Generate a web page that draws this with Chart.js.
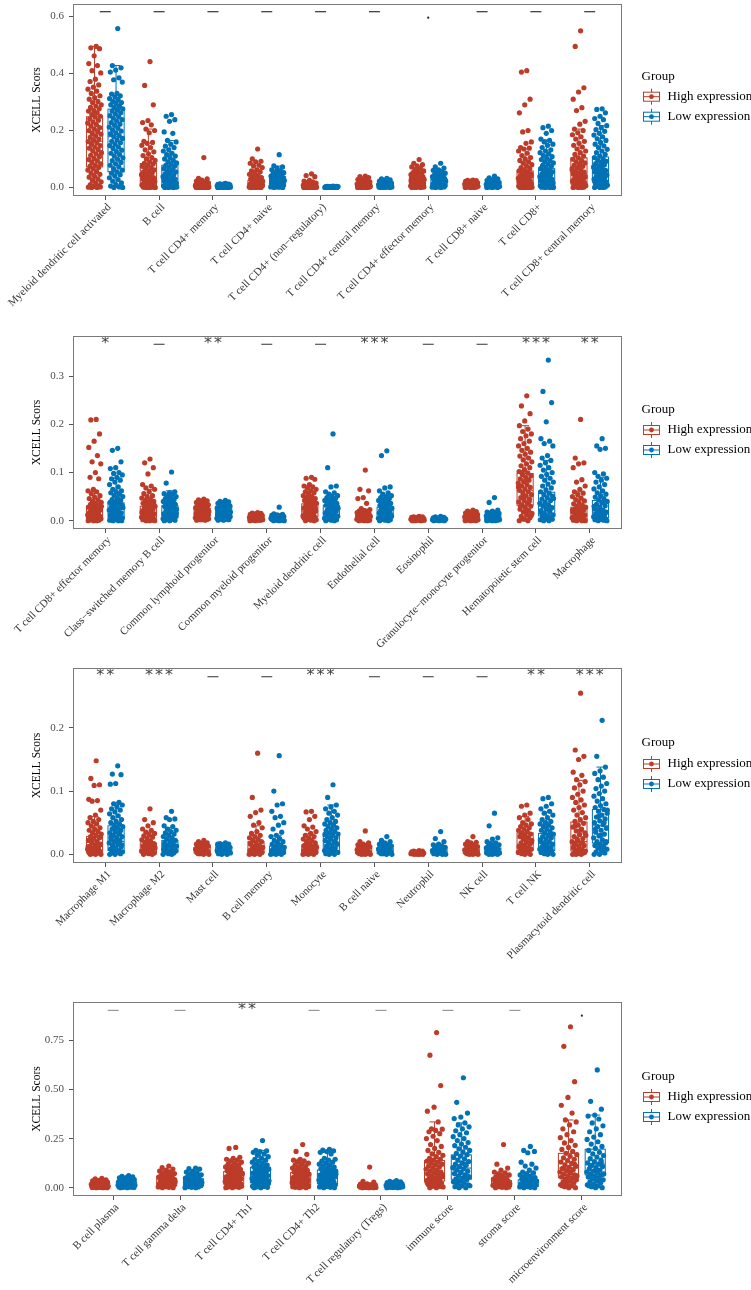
<!DOCTYPE html>
<html><head><meta charset="utf-8">
<script src="https://cdn.jsdelivr.net/npm/chart.js@4/dist/chart.umd.min.js"></script>
<style>
html,body{margin:0;padding:0;background:#fff;}
body{width:751px;height:1290px;position:relative;overflow:hidden;}
canvas{position:absolute;left:0;}
</style></head>
<body>
<canvas id="c1" width="751" height="330" style="top:0px"></canvas>
<canvas id="c2" width="751" height="330" style="top:330px"></canvas>
<canvas id="c3" width="751" height="355" style="top:640px"></canvas>
<canvas id="c4" width="751" height="295" style="top:995px"></canvas>
<script>
// ---------------- DATA ----------------
const groupNames = ["High expression", "Low expression"];

// Panel 1
const p1Categories = ["Myeloid dendritic cell activated","B cell","T cell CD4+ memory","T cell CD4+ naive","T cell CD4+ (non\u2212regulatory)","T cell CD4+ central memory","T cell CD4+ effector memory","T cell CD8+ naive","T cell CD8+","T cell CD8+ central memory"];
const p1YTicks = [0, 0.2, 0.4, 0.6];
const p1Signif = ["ns","ns","ns","ns","ns","ns",".","ns","ns","ns"];
// box stats: [lower whisker, q1, median, q3, upper whisker]
const p1HighBox = [[0,0.072,0.162,0.248,0.495],[0,0.004,0.032,0.084,0.205],[0,0,0.003,0.01,0.024],[0,0.002,0.01,0.025,0.06],[0,0,0.002,0.008,0.018],[0,0.001,0.006,0.014,0.03],[0,0.005,0.018,0.035,0.07],[0,0.002,0.008,0.015,0.025],[0,0.003,0.02,0.058,0.135],[0,0.012,0.05,0.104,0.205]];
const p1LowBox = [[0,0.055,0.178,0.275,0.428],[0,0.004,0.03,0.078,0.165],[0,0.001,0.004,0.008,0.014],[0,0.005,0.02,0.038,0.075],[0,0,0.001,0.002,0.004],[0,0.001,0.006,0.013,0.028],[0,0.004,0.016,0.03,0.06],[0,0.002,0.008,0.016,0.03],[0,0.006,0.028,0.066,0.167],[0,0.018,0.055,0.107,0.217]];
const p1HighPoints = [
[0.495,0.49,0.487,0.462,0.435,0.428,0.41,0.402,0.38,0.372,0.36,0.352,0.345,0.338,0.33,0.322,0.315,0.31,0.302,0.298,0.29,0.286,0.281,0.276,0.27,0.268,0.262,0.256,0.25,0.247,0.241,0.236,0.23,0.226,0.221,0.215,0.21,0.205,0.2,0.196,0.19,0.187,0.181,0.176,0.17,0.166,0.161,0.157,0.152,0.147,0.142,0.138,0.133,0.128,0.122,0.118,0.113,0.108,0.102,0.098,0.093,0.088,0.083,0.078,0.074,0.07,0.066,0.061,0.056,0.05,0.046,0.04,0.036,0.03,0.025,0.02,0.015,0.01,0.006,0.003,0.001,0,0,0.002],
[0.442,0.358,0.29,0.235,0.228,0.22,0.205,0.2,0.192,0.162,0.158,0.155,0.148,0.14,0.132,0.125,0.118,0.112,0.105,0.1,0.095,0.09,0.085,0.082,0.078,0.074,0.07,0.066,0.062,0.058,0.055,0.052,0.048,0.045,0.042,0.038,0.035,0.032,0.03,0.027,0.024,0.021,0.018,0.016,0.013,0.011,0.009,0.007,0.005,0.004,0.003,0.002,0.001,0,0,0,0.001,0.003,0.006,0.008,0.012,0.015,0.02,0.025],
[0.105,0.032,0.03,0.026,0.022,0.02,0.018,0.016,0.014,0.012,0.011,0.01,0.009,0.008,0.007,0.006,0.005,0.004,0.003,0.003,0.002,0.002,0.001,0.001,0,0,0,0,0,0,0.001,0.002,0.004,0.006,0.008],
[0.135,0.1,0.092,0.09,0.085,0.078,0.075,0.07,0.062,0.058,0.055,0.05,0.046,0.042,0.038,0.035,0.032,0.03,0.027,0.024,0.022,0.02,0.018,0.016,0.014,0.012,0.01,0.009,0.008,0.006,0.005,0.004,0.003,0.002,0.001,0,0,0,0,0.001,0.003,0.007,0.011,0.015,0.019],
[0.048,0.042,0.038,0.025,0.022,0.02,0.017,0.015,0.013,0.012,0.01,0.009,0.008,0.007,0.006,0.005,0.004,0.003,0.002,0.002,0.001,0.001,0,0,0,0,0,0,0.001,0.003,0.005],
[0.04,0.038,0.035,0.03,0.028,0.025,0.022,0.02,0.018,0.016,0.014,0.013,0.012,0.011,0.01,0.009,0.008,0.007,0.006,0.005,0.004,0.003,0.002,0.001,0,0,0,0,0.002,0.005,0.008,0.012,0.016],
[0.098,0.085,0.08,0.076,0.072,0.068,0.062,0.058,0.055,0.052,0.05,0.048,0.045,0.043,0.04,0.038,0.036,0.034,0.032,0.03,0.028,0.026,0.024,0.022,0.02,0.018,0.016,0.014,0.012,0.01,0.009,0.008,0.006,0.005,0.004,0.003,0.002,0.001,0,0,0,0.002,0.006,0.01,0.015,0.02,0.025,0.03],
[0.026,0.025,0.024,0.022,0.021,0.02,0.018,0.017,0.016,0.015,0.014,0.013,0.012,0.011,0.01,0.009,0.008,0.007,0.006,0.005,0.004,0.003,0.002,0.001,0,0,0,0.002,0.005,0.008,0.011,0.014,0.017],
[0.41,0.405,0.31,0.29,0.262,0.2,0.195,0.16,0.155,0.14,0.138,0.135,0.128,0.12,0.112,0.105,0.1,0.095,0.09,0.085,0.08,0.075,0.07,0.066,0.062,0.058,0.055,0.052,0.048,0.045,0.042,0.038,0.035,0.032,0.029,0.026,0.023,0.02,0.018,0.016,0.014,0.012,0.01,0.008,0.006,0.005,0.004,0.003,0.002,0.001,0,0,0,0,0.001,0.003,0.007,0.011,0.015,0.021,0.027,0.033,0.04],
[0.55,0.495,0.35,0.335,0.31,0.28,0.27,0.232,0.222,0.205,0.2,0.192,0.185,0.178,0.17,0.162,0.155,0.148,0.142,0.135,0.128,0.122,0.116,0.11,0.104,0.099,0.094,0.09,0.086,0.082,0.078,0.074,0.07,0.066,0.062,0.058,0.054,0.05,0.047,0.044,0.041,0.038,0.035,0.032,0.029,0.026,0.023,0.02,0.018,0.016,0.014,0.012,0.01,0.008,0.006,0.004,0.002,0.001,0,0,0,0.003,0.009,0.015,0.025,0.036,0.048,0.06,0.072]
];
const p1LowPoints = [
[0.558,0.428,0.42,0.412,0.405,0.385,0.378,0.37,0.33,0.328,0.322,0.318,0.312,0.308,0.302,0.298,0.295,0.29,0.285,0.28,0.276,0.272,0.268,0.262,0.258,0.252,0.248,0.243,0.238,0.233,0.228,0.222,0.218,0.212,0.208,0.202,0.198,0.192,0.188,0.182,0.178,0.172,0.167,0.162,0.157,0.152,0.147,0.142,0.137,0.131,0.126,0.12,0.115,0.11,0.104,0.099,0.094,0.088,0.083,0.078,0.072,0.066,0.061,0.055,0.05,0.045,0.04,0.034,0.028,0.022,0.016,0.01,0.005,0.002,0,0],
[0.256,0.25,0.238,0.232,0.195,0.19,0.165,0.16,0.152,0.145,0.14,0.132,0.128,0.12,0.115,0.11,0.105,0.1,0.095,0.09,0.086,0.082,0.078,0.074,0.07,0.066,0.062,0.058,0.055,0.052,0.048,0.045,0.042,0.038,0.035,0.032,0.029,0.026,0.023,0.02,0.018,0.015,0.013,0.011,0.009,0.007,0.005,0.004,0.003,0.002,0.001,0,0,0,0.002,0.006,0.01,0.016,0.024,0.03],
[0.014,0.013,0.012,0.012,0.011,0.01,0.01,0.009,0.008,0.008,0.007,0.006,0.006,0.005,0.004,0.004,0.003,0.003,0.002,0.002,0.001,0.001,0,0,0,0,0.001,0.003,0.005,0.007,0.009,0.011],
[0.115,0.076,0.072,0.068,0.062,0.058,0.055,0.052,0.05,0.048,0.045,0.043,0.04,0.038,0.036,0.034,0.032,0.03,0.028,0.026,0.024,0.022,0.02,0.018,0.016,0.014,0.012,0.01,0.008,0.006,0.005,0.004,0.003,0.002,0.001,0,0,0.002,0.007,0.013,0.019,0.025,0.031,0.037,0.044],
[0.005,0.004,0.004,0.003,0.003,0.003,0.002,0.002,0.002,0.001,0.001,0.001,0,0,0,0,0,0,0.001,0.002,0.003,0.002,0.001,0],
[0.032,0.03,0.027,0.024,0.022,0.02,0.018,0.016,0.014,0.013,0.012,0.011,0.01,0.009,0.008,0.007,0.006,0.005,0.004,0.003,0.002,0.001,0,0,0,0.001,0.004,0.007,0.01],
[0.085,0.072,0.068,0.062,0.06,0.056,0.052,0.05,0.047,0.044,0.042,0.04,0.038,0.036,0.034,0.032,0.03,0.028,0.026,0.024,0.022,0.02,0.018,0.016,0.014,0.012,0.01,0.008,0.006,0.005,0.004,0.003,0.002,0.001,0,0,0.002,0.007,0.012,0.017,0.022],
[0.04,0.034,0.03,0.028,0.025,0.022,0.02,0.018,0.016,0.014,0.013,0.012,0.011,0.01,0.009,0.008,0.007,0.006,0.005,0.004,0.003,0.002,0.001,0,0,0,0.003,0.006,0.009,0.012],
[0.215,0.21,0.2,0.19,0.17,0.165,0.16,0.152,0.148,0.14,0.132,0.128,0.122,0.118,0.112,0.108,0.102,0.098,0.094,0.09,0.086,0.082,0.078,0.074,0.07,0.066,0.062,0.058,0.055,0.052,0.048,0.045,0.042,0.038,0.035,0.032,0.029,0.026,0.023,0.02,0.018,0.016,0.014,0.012,0.01,0.008,0.006,0.005,0.004,0.003,0.002,0.001,0,0,0,0.002,0.009,0.017,0.025,0.033,0.045,0.056],
[0.276,0.274,0.262,0.25,0.242,0.238,0.225,0.217,0.21,0.203,0.197,0.19,0.184,0.178,0.171,0.165,0.158,0.152,0.146,0.14,0.134,0.128,0.122,0.116,0.11,0.105,0.1,0.096,0.092,0.088,0.084,0.08,0.076,0.072,0.068,0.064,0.06,0.057,0.054,0.05,0.047,0.044,0.041,0.038,0.035,0.032,0.029,0.026,0.023,0.02,0.018,0.015,0.012,0.01,0.008,0.006,0.004,0.002,0,0,0,0.005,0.013,0.022,0.03,0.043,0.058,0.07,0.085]
];

// Panel 2
const p2Categories = ["T cell CD8+ effector memory","Class\u2212switched memory B cell","Common lymphoid progenitor","Common myeloid progenitor","Myeloid dendritic cell","Endothelial cell","Eosinophil","Granulocyte\u2212monocyte progenitor","Hematopoietic stem cell","Macrophage"];
const p2YTicks = [0, 0.1, 0.2, 0.3];
const p2Signif = ["*","ns","**","ns","ns","***","ns","ns","***","**"];
const p2HighBox = [[0,0.004,0.012,0.03,0.062],[0,0.005,0.016,0.03,0.065],[0,0.01,0.018,0.026,0.045],[0,0.002,0.005,0.009,0.016],[0,0.008,0.02,0.035,0.06],[0,0.002,0.006,0.012,0.024],[0,0.001,0.003,0.005,0.009],[0,0.001,0.004,0.01,0.02],[0,0.032,0.062,0.098,0.197],[0,0.003,0.01,0.028,0.06]];
const p2LowBox = [[0,0.006,0.018,0.037,0.088],[0,0.006,0.017,0.031,0.062],[0,0.008,0.017,0.03,0.042],[0,0.001,0.004,0.008,0.014],[0,0.008,0.018,0.032,0.055],[0,0.006,0.016,0.028,0.052],[0,0.001,0.002,0.004,0.008],[0,0.001,0.004,0.01,0.02],[0,0.01,0.03,0.059,0.125],[0,0.006,0.018,0.042,0.09]];
const p2HighPoints = [
[0.21,0.209,0.18,0.165,0.152,0.135,0.122,0.118,0.1,0.09,0.087,0.065,0.062,0.06,0.056,0.052,0.049,0.046,0.043,0.04,0.038,0.036,0.034,0.032,0.03,0.028,0.026,0.024,0.022,0.02,0.018,0.016,0.014,0.012,0.011,0.01,0.009,0.008,0.007,0.006,0.005,0.004,0.003,0.002,0.001,0,0,0,0.002,0.006,0.01,0.015,0.02,0.025,0.03,0.035],
[0.128,0.12,0.11,0.097,0.075,0.072,0.068,0.065,0.06,0.056,0.052,0.05,0.047,0.044,0.042,0.04,0.038,0.036,0.034,0.032,0.03,0.028,0.026,0.024,0.022,0.02,0.018,0.016,0.014,0.012,0.01,0.009,0.008,0.007,0.006,0.005,0.004,0.003,0.002,0.001,0,0,0,0.003,0.007,0.012,0.017,0.022,0.027,0.033,0.039],
[0.045,0.043,0.041,0.04,0.038,0.036,0.035,0.033,0.032,0.03,0.029,0.028,0.027,0.026,0.025,0.024,0.023,0.022,0.021,0.02,0.019,0.018,0.017,0.016,0.015,0.014,0.013,0.012,0.011,0.01,0.009,0.008,0.007,0.006,0.005,0.004,0.003,0.002,0.001,0.001,0.002,0.004,0.006,0.008],
[0.017,0.016,0.015,0.014,0.013,0.012,0.012,0.011,0.01,0.009,0.009,0.008,0.007,0.007,0.006,0.005,0.005,0.004,0.003,0.003,0.002,0.002,0.001,0.001,0,0,0.001,0.002,0.004,0.006,0.008],
[0.09,0.088,0.086,0.075,0.072,0.07,0.068,0.065,0.062,0.06,0.058,0.055,0.052,0.05,0.048,0.046,0.044,0.042,0.04,0.038,0.036,0.034,0.032,0.03,0.028,0.026,0.024,0.022,0.02,0.018,0.016,0.014,0.012,0.01,0.009,0.008,0.007,0.006,0.005,0.004,0.003,0.002,0.001,0,0,0.003,0.008,0.013,0.019,0.025,0.031],
[0.105,0.065,0.062,0.048,0.046,0.036,0.025,0.023,0.021,0.02,0.019,0.018,0.017,0.016,0.015,0.014,0.013,0.012,0.011,0.01,0.009,0.008,0.007,0.006,0.005,0.004,0.003,0.002,0.001,0,0,0,0.001,0.003,0.005,0.008,0.011,0.014],
[0.009,0.008,0.008,0.007,0.007,0.006,0.006,0.005,0.005,0.004,0.004,0.003,0.003,0.002,0.002,0.001,0.001,0,0,0,0.001,0.002,0.003,0.004],
[0.022,0.02,0.019,0.018,0.016,0.015,0.014,0.013,0.012,0.011,0.01,0.009,0.008,0.007,0.006,0.005,0.004,0.003,0.003,0.002,0.002,0.001,0.001,0,0,0,0.001,0.003,0.005,0.008],
[0.259,0.238,0.222,0.207,0.197,0.19,0.185,0.18,0.176,0.17,0.165,0.16,0.155,0.15,0.146,0.142,0.138,0.134,0.13,0.126,0.122,0.118,0.114,0.11,0.106,0.102,0.099,0.096,0.093,0.09,0.087,0.084,0.081,0.078,0.075,0.072,0.069,0.066,0.063,0.06,0.057,0.054,0.051,0.048,0.045,0.042,0.039,0.036,0.033,0.03,0.027,0.024,0.021,0.018,0.015,0.012,0.009,0.006,0.003,0,0,0.004,0.011,0.02,0.03,0.04,0.05,0.07,0.085,0.1],
[0.21,0.13,0.12,0.118,0.11,0.085,0.08,0.072,0.065,0.06,0.057,0.054,0.05,0.047,0.044,0.041,0.038,0.035,0.032,0.03,0.028,0.026,0.024,0.022,0.02,0.018,0.016,0.014,0.012,0.01,0.009,0.008,0.007,0.006,0.005,0.004,0.003,0.002,0.001,0,0,0,0.003,0.007,0.012,0.017,0.022]
];
const p2LowPoints = [
[0.15,0.146,0.122,0.11,0.108,0.1,0.098,0.095,0.09,0.087,0.084,0.08,0.075,0.07,0.065,0.062,0.06,0.058,0.055,0.052,0.05,0.047,0.044,0.042,0.04,0.038,0.036,0.034,0.032,0.03,0.028,0.026,0.024,0.022,0.02,0.018,0.016,0.014,0.012,0.01,0.008,0.006,0.005,0.004,0.003,0.002,0.001,0,0,0,0.004,0.009,0.014,0.02,0.027,0.034],
[0.101,0.078,0.06,0.058,0.056,0.055,0.052,0.05,0.048,0.046,0.044,0.042,0.04,0.038,0.036,0.034,0.032,0.03,0.028,0.026,0.024,0.022,0.02,0.018,0.016,0.014,0.012,0.01,0.009,0.008,0.007,0.006,0.005,0.004,0.003,0.002,0.001,0,0,0.004,0.009,0.015,0.021,0.028,0.035],
[0.042,0.04,0.039,0.037,0.036,0.034,0.033,0.031,0.03,0.029,0.028,0.027,0.026,0.025,0.024,0.023,0.022,0.021,0.02,0.019,0.018,0.017,0.016,0.015,0.014,0.013,0.012,0.011,0.01,0.009,0.008,0.007,0.006,0.005,0.004,0.003,0.002,0.001,0.001,0.003,0.005,0.008],
[0.028,0.014,0.013,0.012,0.011,0.01,0.009,0.009,0.008,0.007,0.006,0.006,0.005,0.004,0.004,0.003,0.002,0.002,0.001,0.001,0,0,0,0.001,0.003,0.005,0.007],
[0.18,0.11,0.072,0.07,0.06,0.058,0.055,0.052,0.05,0.048,0.046,0.044,0.042,0.04,0.038,0.036,0.034,0.032,0.03,0.028,0.026,0.024,0.022,0.02,0.018,0.016,0.014,0.012,0.01,0.009,0.008,0.007,0.006,0.005,0.004,0.003,0.002,0.001,0,0,0.004,0.009,0.014,0.019,0.025,0.03],
[0.145,0.135,0.07,0.068,0.062,0.058,0.055,0.052,0.05,0.048,0.046,0.044,0.042,0.04,0.038,0.036,0.034,0.032,0.03,0.028,0.026,0.024,0.022,0.02,0.018,0.016,0.014,0.012,0.01,0.009,0.008,0.007,0.006,0.005,0.004,0.003,0.002,0.001,0,0,0.004,0.01,0.016,0.022,0.028],
[0.009,0.008,0.007,0.006,0.006,0.005,0.005,0.004,0.004,0.003,0.003,0.002,0.002,0.001,0.001,0,0,0,0.001,0.002,0.003],
[0.048,0.038,0.022,0.02,0.018,0.017,0.016,0.015,0.014,0.013,0.012,0.011,0.01,0.009,0.008,0.007,0.006,0.005,0.004,0.003,0.002,0.002,0.001,0.001,0,0,0,0.002,0.004,0.007],
[0.333,0.268,0.245,0.205,0.17,0.165,0.16,0.155,0.135,0.13,0.125,0.12,0.115,0.11,0.105,0.1,0.096,0.092,0.088,0.084,0.08,0.076,0.072,0.068,0.064,0.06,0.057,0.054,0.051,0.048,0.045,0.042,0.039,0.036,0.033,0.03,0.027,0.024,0.021,0.018,0.015,0.012,0.01,0.008,0.006,0.004,0.002,0,0,0.003,0.009,0.016,0.024,0.035,0.046],
[0.17,0.155,0.15,0.148,0.1,0.097,0.092,0.088,0.084,0.08,0.075,0.07,0.066,0.062,0.058,0.055,0.052,0.049,0.046,0.043,0.04,0.037,0.034,0.031,0.028,0.025,0.022,0.02,0.018,0.016,0.014,0.012,0.01,0.008,0.006,0.005,0.004,0.003,0.002,0.001,0,0,0.004,0.009,0.015,0.022,0.03,0.038]
];

// Panel 3
const p3Categories = ["Macrophage M1","Macrophage M2","Mast cell","B cell memory","Monocyte","B cell naive","Neutrophil","NK cell","T cell NK","Plasmacytoid dendritic cell"];
const p3YTicks = [0, 0.1, 0.2];
const p3Signif = ["**","***","ns","ns","***","ns","ns","ns","**","***"];
const p3HighBox = [[0,0.003,0.012,0.028,0.06],[0,0.002,0.008,0.018,0.035],[0,0.002,0.006,0.011,0.02],[0,0.002,0.008,0.02,0.045],[0,0.002,0.006,0.015,0.032],[0,0.001,0.004,0.009,0.017],[0,0.0005,0.001,0.003,0.005],[0,0.001,0.003,0.008,0.016],[0,0.006,0.016,0.034,0.06],[0,0.005,0.02,0.051,0.117]];
const p3LowBox = [[0,0.006,0.02,0.045,0.082],[0,0.004,0.012,0.022,0.042],[0,0.002,0.006,0.011,0.018],[0,0.001,0.004,0.013,0.03],[0,0.006,0.016,0.034,0.078],[0,0.001,0.004,0.009,0.018],[0,0.001,0.003,0.008,0.016],[0,0.001,0.004,0.01,0.02],[0,0.006,0.017,0.033,0.067],[0,0.018,0.045,0.071,0.138]];
const p3HighPoints = [
[0.148,0.12,0.11,0.109,0.087,0.085,0.084,0.07,0.062,0.058,0.055,0.052,0.05,0.048,0.045,0.042,0.04,0.038,0.036,0.034,0.032,0.03,0.028,0.026,0.024,0.022,0.02,0.018,0.016,0.014,0.012,0.01,0.009,0.008,0.007,0.006,0.005,0.004,0.003,0.002,0.001,0,0,0,0.003,0.007,0.012,0.017,0.022,0.027],
[0.072,0.055,0.05,0.045,0.04,0.038,0.035,0.033,0.031,0.029,0.027,0.025,0.023,0.021,0.019,0.017,0.015,0.013,0.012,0.011,0.01,0.009,0.008,0.007,0.006,0.005,0.004,0.003,0.002,0.001,0,0,0.002,0.005,0.008,0.012,0.016,0.02],
[0.022,0.02,0.018,0.017,0.016,0.015,0.014,0.013,0.012,0.011,0.01,0.009,0.008,0.007,0.006,0.005,0.004,0.003,0.002,0.001,0,0,0.001,0.003,0.005,0.008,0.011,0.014],
[0.16,0.09,0.07,0.066,0.06,0.05,0.046,0.042,0.036,0.033,0.03,0.028,0.026,0.024,0.022,0.02,0.018,0.016,0.014,0.012,0.011,0.01,0.009,0.008,0.007,0.006,0.005,0.004,0.003,0.002,0.001,0,0,0,0.002,0.005,0.009,0.013,0.017],
[0.068,0.067,0.06,0.055,0.045,0.043,0.04,0.036,0.033,0.03,0.028,0.026,0.024,0.022,0.02,0.018,0.016,0.014,0.013,0.012,0.011,0.01,0.009,0.008,0.007,0.006,0.005,0.004,0.003,0.002,0.001,0,0,0,0.002,0.004,0.007,0.01,0.013],
[0.037,0.02,0.018,0.016,0.015,0.014,0.013,0.012,0.011,0.01,0.009,0.008,0.007,0.006,0.005,0.004,0.003,0.002,0.001,0,0,0,0.001,0.003,0.005,0.008,0.011],
[0.006,0.005,0.005,0.004,0.004,0.003,0.003,0.002,0.002,0.002,0.001,0.001,0.001,0,0,0,0,0.001,0.002,0.003],
[0.028,0.02,0.019,0.018,0.016,0.015,0.013,0.012,0.011,0.01,0.009,0.008,0.007,0.006,0.005,0.004,0.003,0.002,0.001,0,0,0,0.001,0.003,0.005],
[0.078,0.076,0.065,0.062,0.058,0.055,0.05,0.048,0.046,0.044,0.042,0.04,0.038,0.036,0.034,0.032,0.03,0.028,0.026,0.024,0.022,0.02,0.018,0.016,0.014,0.012,0.01,0.009,0.008,0.007,0.006,0.005,0.004,0.003,0.002,0.001,0,0,0.003,0.008,0.013,0.019,0.025,0.031],
[0.255,0.165,0.155,0.15,0.13,0.125,0.118,0.115,0.11,0.105,0.1,0.095,0.09,0.086,0.082,0.078,0.074,0.07,0.066,0.062,0.058,0.055,0.052,0.049,0.046,0.043,0.04,0.037,0.034,0.031,0.028,0.025,0.022,0.02,0.018,0.016,0.014,0.012,0.01,0.008,0.006,0.005,0.004,0.003,0.002,0.001,0,0,0,0.003,0.008,0.013,0.018,0.024,0.03,0.038,0.045]
];
const p3LowPoints = [
[0.14,0.127,0.126,0.112,0.111,0.082,0.08,0.078,0.075,0.072,0.07,0.067,0.064,0.061,0.058,0.055,0.052,0.05,0.048,0.046,0.044,0.042,0.04,0.038,0.036,0.034,0.032,0.03,0.028,0.026,0.024,0.022,0.02,0.018,0.016,0.014,0.012,0.01,0.008,0.006,0.005,0.004,0.003,0.002,0.001,0,0,0.004,0.009,0.015,0.021,0.027,0.034,0.041],
[0.068,0.058,0.056,0.055,0.045,0.044,0.04,0.038,0.036,0.034,0.032,0.03,0.028,0.026,0.024,0.022,0.02,0.018,0.016,0.014,0.013,0.012,0.011,0.01,0.009,0.008,0.007,0.006,0.005,0.004,0.003,0.002,0.001,0,0,0.003,0.006,0.01,0.015,0.02],
[0.018,0.017,0.016,0.015,0.014,0.013,0.012,0.011,0.01,0.009,0.008,0.007,0.006,0.005,0.004,0.003,0.002,0.001,0,0,0.002,0.004,0.007,0.01,0.013,0.016],
[0.156,0.1,0.08,0.078,0.068,0.06,0.058,0.05,0.046,0.04,0.035,0.03,0.028,0.025,0.022,0.02,0.018,0.016,0.014,0.012,0.011,0.01,0.009,0.008,0.007,0.006,0.005,0.004,0.003,0.002,0.001,0,0,0,0.002,0.004,0.007,0.01],
[0.11,0.09,0.078,0.075,0.072,0.068,0.065,0.062,0.058,0.055,0.052,0.05,0.048,0.046,0.044,0.042,0.04,0.038,0.036,0.034,0.032,0.03,0.028,0.026,0.024,0.022,0.02,0.018,0.016,0.014,0.012,0.01,0.008,0.006,0.005,0.004,0.003,0.002,0.001,0,0,0.003,0.008,0.013,0.019,0.025,0.031],
[0.028,0.022,0.02,0.018,0.016,0.015,0.014,0.013,0.012,0.011,0.01,0.009,0.008,0.007,0.006,0.005,0.004,0.003,0.002,0.001,0,0,0.001,0.003,0.006,0.009],
[0.036,0.025,0.02,0.016,0.015,0.013,0.012,0.011,0.01,0.009,0.008,0.007,0.006,0.005,0.004,0.003,0.002,0.001,0,0,0,0.002,0.004,0.006],
[0.065,0.045,0.026,0.024,0.02,0.018,0.016,0.015,0.014,0.013,0.012,0.011,0.01,0.009,0.008,0.007,0.006,0.005,0.004,0.003,0.002,0.001,0,0,0,0.002,0.005,0.008],
[0.09,0.088,0.08,0.076,0.072,0.068,0.065,0.062,0.058,0.055,0.052,0.05,0.048,0.046,0.044,0.042,0.04,0.038,0.036,0.034,0.032,0.03,0.028,0.026,0.024,0.022,0.02,0.018,0.016,0.014,0.012,0.01,0.009,0.008,0.007,0.006,0.005,0.004,0.003,0.002,0.001,0,0,0.004,0.01,0.016,0.023,0.029],
[0.212,0.155,0.138,0.132,0.128,0.122,0.118,0.112,0.108,0.104,0.1,0.096,0.092,0.088,0.084,0.08,0.077,0.074,0.071,0.068,0.065,0.062,0.059,0.056,0.053,0.05,0.047,0.044,0.041,0.038,0.035,0.032,0.029,0.026,0.023,0.02,0.018,0.016,0.014,0.012,0.01,0.008,0.006,0.004,0.002,0,0,0.005,0.012,0.02,0.03,0.04,0.05,0.06,0.07]
];

// Panel 4
const p4Categories = ["B cell plasma","T cell gamma delta","T cell CD4+ Th1","T cell CD4+ Th2","T cell regulatory (Tregs)","immune score","stroma score","microenvironment score"];
const p4YTicks = [0, 0.25, 0.5, 0.75];
const p4Signif = ["ns","ns","**","ns","ns","ns","ns","."];
const p4HighBox = [[0,0.004,0.01,0.02,0.04],[0,0.01,0.025,0.048,0.09],[0,0.018,0.045,0.082,0.145],[0,0.015,0.04,0.077,0.145],[0,0.001,0.004,0.008,0.016],[0,0.034,0.075,0.138,0.335],[0,0.006,0.015,0.036,0.075],[0,0.051,0.1,0.175,0.345]];
const p4LowBox = [[0,0.006,0.015,0.03,0.055],[0,0.01,0.024,0.045,0.085],[0,0.025,0.06,0.104,0.19],[0,0.02,0.05,0.09,0.18],[0,0.003,0.008,0.016,0.03],[0,0.043,0.1,0.167,0.33],[0,0.006,0.016,0.04,0.08],[0,0.065,0.12,0.196,0.37]];
const p4HighPoints = [
[0.048,0.045,0.04,0.038,0.035,0.032,0.03,0.028,0.026,0.024,0.022,0.02,0.018,0.016,0.014,0.012,0.01,0.009,0.008,0.007,0.006,0.005,0.004,0.003,0.002,0.001,0,0,0,0.002,0.005,0.009,0.013,0.017,0.021],
[0.11,0.102,0.095,0.09,0.085,0.08,0.076,0.072,0.068,0.064,0.06,0.057,0.054,0.051,0.048,0.045,0.042,0.039,0.036,0.033,0.03,0.028,0.026,0.024,0.022,0.02,0.018,0.016,0.014,0.012,0.01,0.008,0.006,0.004,0.002,0,0,0.005,0.012,0.02,0.028,0.036],
[0.205,0.2,0.155,0.15,0.145,0.14,0.135,0.13,0.125,0.12,0.115,0.11,0.106,0.102,0.098,0.094,0.09,0.086,0.082,0.078,0.074,0.07,0.066,0.062,0.058,0.055,0.052,0.049,0.046,0.043,0.04,0.037,0.034,0.031,0.028,0.025,0.022,0.019,0.016,0.013,0.01,0.008,0.006,0.004,0.002,0,0,0.005,0.012,0.02,0.03,0.04,0.05,0.06,0.07],
[0.22,0.185,0.17,0.145,0.14,0.135,0.13,0.125,0.12,0.115,0.11,0.105,0.1,0.096,0.092,0.088,0.084,0.08,0.076,0.072,0.068,0.064,0.06,0.057,0.054,0.051,0.048,0.045,0.042,0.039,0.036,0.033,0.03,0.027,0.024,0.021,0.018,0.015,0.012,0.01,0.008,0.006,0.004,0.002,0,0,0.005,0.012,0.02,0.03,0.04,0.05,0.06],
[0.105,0.032,0.028,0.02,0.018,0.016,0.015,0.014,0.013,0.012,0.011,0.01,0.009,0.008,0.007,0.006,0.005,0.004,0.003,0.002,0.001,0,0,0,0.001,0.003,0.005,0.008],
[0.79,0.675,0.52,0.41,0.39,0.335,0.3,0.298,0.292,0.285,0.275,0.262,0.25,0.24,0.22,0.21,0.2,0.19,0.18,0.172,0.165,0.158,0.15,0.145,0.14,0.135,0.13,0.125,0.12,0.115,0.11,0.105,0.1,0.095,0.09,0.085,0.08,0.075,0.07,0.065,0.06,0.056,0.052,0.048,0.044,0.04,0.036,0.032,0.028,0.024,0.02,0.016,0.012,0.008,0.004,0,0,0.006,0.015,0.025,0.035,0.05,0.065,0.08],
[0.22,0.12,0.1,0.09,0.08,0.075,0.07,0.065,0.06,0.056,0.052,0.048,0.044,0.04,0.037,0.034,0.031,0.028,0.025,0.022,0.02,0.018,0.016,0.014,0.012,0.01,0.008,0.006,0.004,0.002,0,0,0.005,0.012,0.02,0.028],
[0.82,0.72,0.54,0.46,0.42,0.38,0.345,0.335,0.32,0.3,0.285,0.27,0.255,0.24,0.228,0.216,0.205,0.195,0.185,0.175,0.168,0.16,0.152,0.145,0.138,0.131,0.124,0.117,0.11,0.104,0.098,0.092,0.086,0.08,0.075,0.07,0.065,0.06,0.055,0.05,0.045,0.04,0.035,0.03,0.025,0.02,0.015,0.01,0.005,0,0,0.01,0.025,0.04,0.06,0.08,0.1,0.12]
];
const p4LowPoints = [
[0.061,0.058,0.055,0.052,0.05,0.047,0.044,0.041,0.038,0.035,0.032,0.03,0.028,0.026,0.024,0.022,0.02,0.018,0.016,0.014,0.012,0.01,0.008,0.006,0.005,0.004,0.003,0.002,0.001,0,0,0.003,0.008,0.013,0.018,0.025],
[0.1,0.097,0.095,0.085,0.08,0.075,0.07,0.066,0.062,0.058,0.055,0.052,0.049,0.046,0.043,0.04,0.037,0.034,0.031,0.028,0.026,0.024,0.022,0.02,0.018,0.016,0.014,0.012,0.01,0.008,0.006,0.004,0.002,0,0,0.005,0.012,0.02,0.028,0.036],
[0.24,0.19,0.188,0.184,0.18,0.172,0.165,0.158,0.15,0.145,0.14,0.135,0.13,0.125,0.12,0.115,0.11,0.106,0.102,0.098,0.094,0.09,0.086,0.082,0.078,0.074,0.07,0.066,0.062,0.058,0.055,0.052,0.049,0.046,0.043,0.04,0.037,0.034,0.031,0.028,0.025,0.022,0.019,0.016,0.013,0.01,0.008,0.006,0.004,0.002,0,0,0.01,0.02,0.035,0.05,0.07,0.09],
[0.195,0.192,0.188,0.184,0.18,0.172,0.15,0.145,0.14,0.135,0.13,0.125,0.12,0.115,0.11,0.105,0.1,0.096,0.092,0.088,0.084,0.08,0.076,0.072,0.068,0.064,0.06,0.057,0.054,0.051,0.048,0.045,0.042,0.039,0.036,0.033,0.03,0.027,0.024,0.021,0.018,0.015,0.012,0.01,0.008,0.006,0.004,0.002,0,0,0.01,0.02,0.035,0.05,0.07],
[0.036,0.032,0.03,0.028,0.026,0.024,0.022,0.02,0.018,0.016,0.015,0.014,0.013,0.012,0.011,0.01,0.009,0.008,0.007,0.006,0.005,0.004,0.003,0.002,0.001,0,0,0.002,0.005,0.009],
[0.56,0.435,0.38,0.36,0.352,0.33,0.32,0.31,0.3,0.29,0.28,0.27,0.26,0.25,0.24,0.23,0.222,0.214,0.206,0.198,0.19,0.182,0.175,0.168,0.161,0.154,0.147,0.14,0.133,0.126,0.12,0.114,0.108,0.102,0.096,0.09,0.084,0.078,0.072,0.066,0.06,0.055,0.05,0.045,0.04,0.035,0.03,0.025,0.02,0.015,0.01,0.005,0,0,0.01,0.025,0.04,0.06,0.08,0.1,0.12],
[0.21,0.19,0.185,0.178,0.13,0.12,0.11,0.1,0.09,0.08,0.075,0.07,0.065,0.06,0.056,0.052,0.048,0.044,0.04,0.037,0.034,0.031,0.028,0.025,0.022,0.02,0.018,0.016,0.014,0.012,0.01,0.008,0.006,0.004,0.002,0,0,0.005,0.012,0.02,0.028],
[0.6,0.44,0.4,0.37,0.365,0.35,0.33,0.315,0.3,0.285,0.27,0.258,0.246,0.234,0.222,0.21,0.2,0.19,0.18,0.172,0.164,0.156,0.148,0.14,0.133,0.126,0.12,0.114,0.108,0.102,0.096,0.09,0.085,0.08,0.075,0.07,0.065,0.06,0.055,0.05,0.045,0.04,0.035,0.03,0.025,0.02,0.015,0.01,0.005,0,0,0.01,0.03,0.05,0.07,0.09,0.11,0.13]
];

// ---------------- RENDER ----------------
const RED = '#BC3C29', BLUE = '#0072B5';
const SERIF = "'Liberation Serif', 'Times New Roman', serif";
const AREA_LEFT = 73, AREA_RIGHT = 622, W = 751;

function makePanel(canvasId, L, cats, yTicks, signif, hiBox, loBox, hiPts, loPts) {
  const n = cats.length;
  const OFF = 0.2, HALF = 0.15, CAP = 0.075, JW = 0.26;
  const jit = i => ((((i + 1) * 0.6180339887) % 1) - 0.5) * JW;
  const toPts = (arr, off) => arr.flatMap((vals, c) => vals.map((v, i) => ({x: c + off + jit(i), y: v})));
  const canvas = document.getElementById(canvasId);
  const H = canvas.height;

  const boxPlugin = {
    id: 'boxes_' + canvasId,
    beforeDatasetsDraw(chart) {
      const {ctx, scales: {x, y}} = chart;
      ctx.save();
      [[hiBox, RED, -OFF], [loBox, BLUE, OFF]].forEach(([boxes, col, off]) => {
        boxes.forEach((b, c) => {
          const xc = x.getPixelForValue(c + off);
          const hw = x.getPixelForValue(c + off + HALF) - xc;
          const cw = x.getPixelForValue(c + off + CAP) - xc;
          const [lo, q1, md, q3, hi] = b.map(v => y.getPixelForValue(v));
          ctx.strokeStyle = col; ctx.lineWidth = 1;
          ctx.beginPath();
          ctx.moveTo(xc, hi); ctx.lineTo(xc, q3);
          ctx.moveTo(xc, q1); ctx.lineTo(xc, lo);
          ctx.moveTo(xc - cw, hi); ctx.lineTo(xc + cw, hi);
          ctx.moveTo(xc - cw, lo); ctx.lineTo(xc + cw, lo);
          ctx.stroke();
          ctx.fillStyle = '#fff';
          ctx.fillRect(xc - hw, q3, 2 * hw, q1 - q3);
          ctx.strokeRect(xc - hw, q3, 2 * hw, q1 - q3);
          ctx.beginPath(); ctx.moveTo(xc - hw, md); ctx.lineTo(xc + hw, md); ctx.stroke();
        });
      });
      ctx.restore();
    },
    afterDatasetsDraw(chart) {
      const {ctx, chartArea: a, scales: {x}} = chart;
      ctx.save();
      signif.forEach((s, c) => {
        const xc = x.getPixelForValue(c);
        if (s === 'ns') {
          ctx.strokeStyle = L.dashColor; ctx.lineWidth = 1.2;
          ctx.beginPath(); ctx.moveTo(xc - 5.5, a.top + L.dashDy); ctx.lineTo(xc + 5.5, a.top + L.dashDy); ctx.stroke();
        } else if (s === '.') {
          ctx.fillStyle = '#222';
          ctx.beginPath(); ctx.arc(xc, a.top + L.dotDy, 1.1, 0, Math.PI * 2); ctx.fill();
        } else {
          ctx.fillStyle = '#444';
          ctx.font = "16px 'DejaVu Sans', sans-serif";
          ctx.textAlign = 'center'; ctx.textBaseline = 'middle';
          const k = s.length, step = 10;
          for (let j = 0; j < k; j++) {
            ctx.fillText('*', xc + (j - (k - 1) / 2) * step, a.top + L.starDy);
          }
        }
      });
      ctx.restore();
    },
    afterDraw(chart) {
      const {ctx, chartArea: a} = chart;
      ctx.save();
      ctx.strokeStyle = '#7a7a7a'; ctx.lineWidth = 1;
      ctx.strokeRect(Math.round(a.left) + 0.5, Math.round(a.top) + 0.5, Math.round(a.right - a.left) - 1, Math.round(a.bottom - a.top) - 1);
      // legend
      ctx.fillStyle = '#000';
      ctx.font = '13px ' + SERIF;
      ctx.textAlign = 'left'; ctx.textBaseline = 'middle';
      ctx.fillText('Group', 641.5, L.legY[0]);
      [[RED, L.legY[1], groupNames[0]], [BLUE, L.legY[2], groupNames[1]]].forEach(([col, yc, txt]) => {
        const x0 = 643.5;
        ctx.strokeStyle = col; ctx.lineWidth = 1;
        ctx.beginPath(); ctx.moveTo(x0 + 8, yc - 8); ctx.lineTo(x0 + 8, yc + 8); ctx.stroke();
        ctx.fillStyle = '#fff';
        ctx.fillRect(x0, yc - 4.5, 16, 9); ctx.strokeRect(x0, yc - 4.5, 16, 9);
        ctx.beginPath(); ctx.moveTo(x0, yc); ctx.lineTo(x0 + 16, yc); ctx.stroke();
        ctx.fillStyle = col; ctx.beginPath(); ctx.arc(x0 + 8, yc, 2.4, 0, Math.PI * 2); ctx.fill();
        ctx.fillStyle = '#000';
        ctx.fillText(txt, 667.5, yc);
      });
      ctx.restore();
    }
  };

  return new Chart(canvas, {
    type: 'scatter',
    data: {
      datasets: [
        {label: groupNames[0], data: toPts(hiPts, -OFF), backgroundColor: RED, borderWidth: 0, pointRadius: 2.6},
        {label: groupNames[1], data: toPts(loPts, OFF), backgroundColor: BLUE, borderWidth: 0, pointRadius: 2.6}
      ]
    },
    options: {
      responsive: false, animation: false, events: [],
      layout: {padding: {left: 0, right: W - AREA_RIGHT, top: L.areaTop, bottom: 0}},
      plugins: {legend: {display: false}, tooltip: {enabled: false}},
      scales: {
        x: {
          type: 'linear', min: -0.6, max: n - 1 + 0.6,
          afterBuildTicks: s => { s.ticks = cats.map((c, i) => ({value: i})); },
          afterFit: s => { s.height = H - L.areaBottom; s.paddingLeft = 0; s.paddingRight = 0; s.paddingTop = 0; s.paddingBottom = 0; },
          grid: {display: true, drawOnChartArea: false, drawTicks: true, tickLength: 4, color: '#555', lineWidth: 1},
          border: {display: false},
          ticks: {autoSkip: false, maxRotation: 45, minRotation: 45, padding: 1, labelOffset: 4,
                  font: {family: SERIF, size: 11}, color: '#333',
                  callback: v => cats[Math.round(v)]}
        },
        y: {
          min: L.ymin, max: L.ymax,
          afterBuildTicks: s => { s.ticks = yTicks.map(v => ({value: v})); },
          afterFit: s => { s.width = AREA_LEFT; s.paddingTop = 0; s.paddingBottom = 0; },
          grid: {display: true, drawOnChartArea: false, drawTicks: true, tickLength: 4, color: '#555', lineWidth: 1},
          border: {display: false},
          ticks: {padding: 5, font: {family: SERIF, size: 11}, color: '#4d4d4d', callback: v => v.toFixed(L.dec)},
          title: {display: true, text: 'XCELL Scors', font: {family: SERIF, size: 11.5}, color: '#000', padding: {top: 30, bottom: 0}}
        }
      }
    },
    plugins: [boxPlugin]
  });
}

makePanel('c1', {areaTop: 2, areaBottom: 196, ymin: -0.030, ymax: 0.644, dec: 1,
  legY: [76.7, 96.7, 116.7], dashDy: 7.7, starDy: 8, dotDy: 13.7, dashColor: '#333'},
  p1Categories, p1YTicks, p1Signif, p1HighBox, p1LowBox, p1HighPoints, p1LowPoints);
makePanel('c2', {areaTop: 6, areaBottom: 199, ymin: -0.0172, ymax: 0.383, dec: 1,
  legY: [80, 100, 120], dashDy: 8.3, starDy: 8, dotDy: 13.7, dashColor: '#555'},
  p2Categories, p2YTicks, p2Signif, p2HighBox, p2LowBox, p2HighPoints, p2LowPoints);
makePanel('c3', {areaTop: 28, areaBottom: 223, ymin: -0.0138, ymax: 0.2948, dec: 1,
  legY: [103, 124, 144], dashDy: 8.7, starDy: 8, dotDy: 13.7, dashColor: '#555'},
  p3Categories, p3YTicks, p3Signif, p3HighBox, p3LowBox, p3HighPoints, p3LowPoints);
makePanel('c4', {areaTop: 7, areaBottom: 201, ymin: -0.0423, ymax: 0.946, dec: 2,
  legY: [82, 102, 122], dashDy: 8.4, starDy: 8, dotDy: 13.7, dashColor: '#999'},
  p4Categories, p4YTicks, p4Signif, p4HighBox, p4LowBox, p4HighPoints, p4LowPoints);
</script>
</body></html>
